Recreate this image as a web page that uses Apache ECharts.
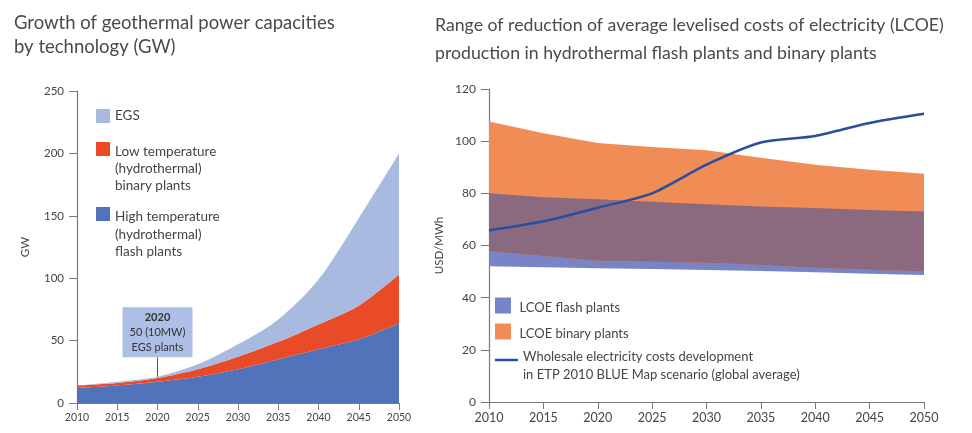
<!DOCTYPE html>
<html>
<head>
<meta charset="utf-8">
<script src="https://cdn.jsdelivr.net/npm/echarts@6/dist/echarts.min.js"></script>
<style>
  html, body { margin: 0; padding: 0; background: #ffffff; }
  #chart { width: 972px; height: 433px; }
</style>
</head>
<body>
<div id="chart"></div>
<script>
// Years shared by both panels
const years = ['2010', '2015', '2020', '2025', '2030', '2035', '2040', '2045', '2050'];

// Installed geothermal capacity by technology, GW
const flashGW  = [12, 14, 17, 21, 27, 35, 43, 51, 64];
const binaryGW = [2, 2, 3, 6, 10, 14, 20, 27, 39];
const egsGW    = [0, 1, 1, 4, 10, 18, 36, 70, 97];

// LCOE ranges, USD/MWh
const flashLow   = [52, 51.7, 51.3, 51, 50.6, 50.2, 49.7, 49.2, 48.7];
const flashHigh  = [80, 78.5, 77.7, 76.8, 75.8, 75, 74.4, 73.6, 73];
const binaryLow  = [57.8, 56, 54.2, 53.8, 53.4, 52.5, 51.5, 50.7, 50];
const binaryHigh = [107.5, 103, 99.3, 97.8, 96.5, 93.6, 91, 89, 87.5];

// Wholesale electricity costs, ETP 2010 BLUE Map scenario, USD/MWh
const wholesale = [65.8, 69.3, 74.5, 80, 91, 99.5, 102, 107, 110.5];

const NAMES = {
  egs: 'EGS',
  binary: 'Low temperature (hydrothermal) binary plants',
  flash: 'High temperature (hydrothermal) flash plants',
  lFlash: 'LCOE flash plants',
  lBinary: 'LCOE binary plants',
  whole: 'Wholesale electricity costs development in ETP 2010 BLUE Map scenario (global average)'
};
const LEGEND_TEXT = {
  [NAMES.egs]: 'EGS',
  [NAMES.binary]: 'Low temperature\n(hydrothermal)\nbinary plants',
  [NAMES.flash]: 'High temperature\n(hydrothermal)\nflash plants',
  [NAMES.lFlash]: 'LCOE flash plants',
  [NAMES.lBinary]: 'LCOE binary plants',
  [NAMES.whole]: 'Wholesale electricity costs development\nin ETP 2010 BLUE Map scenario (global average)'
};

const FONT = 'Lato';
const TEXT = '#454545';
const AXIS = '#7a7a7a';
const C = {
  egs: '#a9bae1',
  binary: '#e94b28',
  flash: '#5073b9',
  lFlash: '#7884c6',
  lBinary: '#f08d56',
  overlap: '#8b6a80',
  line: '#2a4e9d'
};

// Total capacity in 2020, where the EGS call-out points
const idx2020 = years.indexOf('2020');
const total2020 = flashGW[idx2020] + binaryGW[idx2020] + egsGW[idx2020];

// Band overlap of the two LCOE ranges
const overlapLow = flashLow.map((v, i) => Math.max(v, binaryLow[i]));
const overlapSpan = flashHigh.map((v, i) => Math.min(v, binaryHigh[i]) - overlapLow[i]);

function xAxisFor(gridIndex, fontSize) {
  return {
    gridIndex, type: 'category', data: years, boundaryGap: false,
    axisLine: { show: true, lineStyle: { color: AXIS, width: 1.2 } },
    axisTick: { show: true, length: 7, lineStyle: { color: AXIS } },
    axisLabel: { color: TEXT, fontFamily: FONT, fontSize, margin: 9 },
    splitLine: { show: false }
  };
}
function yAxisFor(gridIndex, max, interval, name, nameGap, fontSize) {
  return {
    gridIndex, type: 'value', min: 0, max, interval,
    name, nameLocation: 'middle', nameRotate: 90, nameGap,
    nameTextStyle: { color: TEXT, fontFamily: FONT, fontSize: 11.5 },
    axisLine: { show: true, lineStyle: { color: AXIS, width: 1.2 } },
    axisTick: { show: true, length: 8, lineStyle: { color: AXIS } },
    axisLabel: { color: TEXT, fontFamily: FONT, fontSize, margin: 13 },
    splitLine: { show: false }
  };
}
function area(name, data, color, stack, xi, extra) {
  return Object.assign({
    name, type: 'line', xAxisIndex: xi, yAxisIndex: xi, stack, data,
    symbol: 'none', silent: true,
    lineStyle: { width: 0, color },
    itemStyle: { color },
    areaStyle: { color, opacity: 1 }
  }, extra || {});
}
function base(name, data, stack, xi) {
  return {
    name, type: 'line', xAxisIndex: xi, yAxisIndex: xi, stack, data,
    symbol: 'none', silent: true, lineStyle: { width: 0, opacity: 0 }
  };
}

// Legend keys: the invisible point at the bottom of each path makes the key
// box taller than the visible swatch, so the first text line sits level
// with the swatch rather than the text block being centred on it.
const keySquare = (s, boxH) => `path://M0,0L${s},0L${s},${s}L0,${s}Z M0,${boxH}L0.01,${boxH}`;
const keyDash = (w, y, t, boxH) =>
  `path://M0,${y}L${w},${y}L${w},${y + t}L0,${y + t}Z M0,0L0.01,0 M0,${boxH}L0.01,${boxH}`;

function legendItem(name, left, top, w, h, icon, lineHeight, fontSize) {
  return {
    data: [name], left, top, orient: 'vertical', padding: 0,
    itemWidth: w, itemHeight: h, icon, selectedMode: false,
    itemStyle: { borderWidth: 0 },
    formatter: n => LEGEND_TEXT[n],
    textStyle: { color: TEXT, fontFamily: FONT, fontSize, lineHeight }
  };
}

const chart = echarts.init(document.getElementById('chart'), null, { renderer: 'canvas' });
chart.setOption({
  animation: false,
  backgroundColor: '#ffffff',
  title: [
    {
      text: 'Growth of geothermal power capacities\nby technology (GW)',
      left: 14, top: 11, padding: 0,
      textStyle: { color: '#4a4a4a', fontFamily: FONT, fontSize: 18.5, fontWeight: 'normal', lineHeight: 24 }
    },
    {
      text: 'Range of reduction of average levelised costs of electricity (LCOE)\nproduction in hydrothermal flash plants and binary plants',
      left: 435, top: 11, padding: 0,
      textStyle: { color: '#4a4a4a', fontFamily: FONT, fontSize: 17.7, fontWeight: 'normal', lineHeight: 28 }
    }
  ],
  legend: [
    legendItem(NAMES.egs, 96, 108, 14, 14, 'rect', 16, 13.5),
    legendItem(NAMES.binary, 96, 142, 14, 54, keySquare(14, 54), 17, 13.5),
    legendItem(NAMES.flash, 96, 207, 14, 55, keySquare(14, 55), 17.5, 13.5),
    legendItem(NAMES.lFlash, 495, 297.5, 23, 21, keySquare(16, 21), 16, 13),
    legendItem(NAMES.lBinary, 495, 323.5, 23, 21, keySquare(16, 21), 16, 13),
    legendItem(NAMES.whole, 495, 348.5, 23, 28, keyDash(23, 6.7, 2.6, 28), 17.5, 13)
  ],
  grid: [
    { left: 77, top: 91, width: 322, height: 312, containLabel: false },
    { left: 489, top: 89, width: 435, height: 313, containLabel: false }
  ],
  xAxis: [xAxisFor(0, 10.5), xAxisFor(1, 12.5)],
  yAxis: [
    yAxisFor(0, 250, 50, 'GW', 46, 11.5),
    yAxisFor(1, 120, 20, 'USD/MWh', 44, 12)
  ],
  series: [
    area(NAMES.flash, flashGW, C.flash, 'gw', 0, { smooth: 0.3 }),
    area(NAMES.binary, binaryGW, C.binary, 'gw', 0, { smooth: 0.3 }),
    area(NAMES.egs, egsGW, C.egs, 'gw', 0, {
      smooth: 0.3,
      markLine: {
        silent: true, symbol: ['none', 'none'],
        label: { show: false },
        lineStyle: { color: '#555555', width: 1, type: 'solid' },
        data: [[{ coord: ['2020', total2020] }, { coord: ['2020', 36.7] }]]
      },
      markPoint: {
        silent: true, symbol: 'rect', symbolSize: [70, 50],
        itemStyle: { color: '#adbfe4' },
        label: {
          show: true, position: 'inside', color: '#333333', fontFamily: FONT,
          fontSize: 11, lineHeight: 15,
          formatter: '{y|2020}\n50 (10MW)\nEGS plants',
          rich: { y: { fontWeight: 'bold', fontSize: 11, lineHeight: 15, fontFamily: FONT, color: '#333333' } }
        },
        data: [{ coord: ['2020', 56.7] }]
      }
    }),

    base('flash-low', flashLow, 'fl', 1),
    area(NAMES.lFlash, flashHigh.map((v, i) => v - flashLow[i]), C.lFlash, 'fl', 1),
    base('binary-low', binaryLow, 'bi', 1),
    area(NAMES.lBinary, binaryHigh.map((v, i) => v - binaryLow[i]), C.lBinary, 'bi', 1),
    base('overlap-low', overlapLow, 'ov', 1),
    area('overlap', overlapSpan, C.overlap, 'ov', 1),
    {
      name: NAMES.whole, type: 'line', xAxisIndex: 1, yAxisIndex: 1,
      data: wholesale, symbol: 'none', smooth: 0.25, silent: true,
      lineStyle: { color: C.line, width: 2.5 },
      itemStyle: { color: C.line }
    }
  ]
});
</script>
</body>
</html>
